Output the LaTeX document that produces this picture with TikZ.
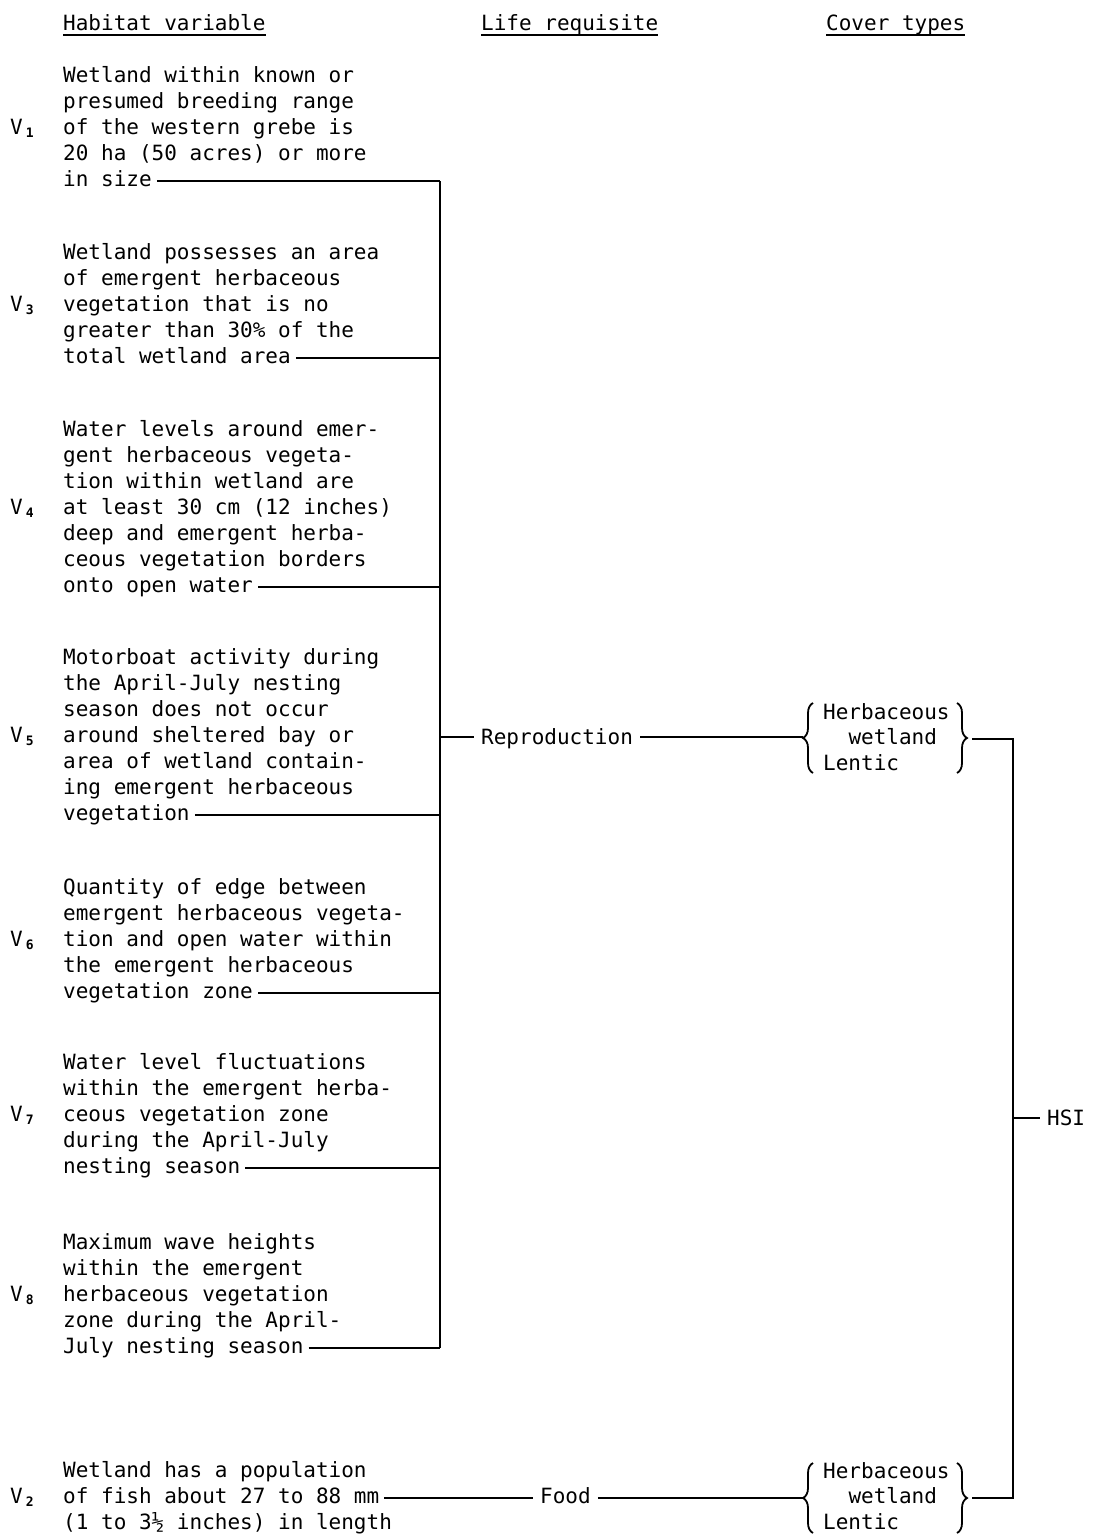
\documentclass[tikz,border=0pt]{standalone}
\usepackage{fontspec}
\newfontfamily\monofam{DejaVu Sans Mono}
\usetikzlibrary{decorations.pathreplacing}
\begin{document}
\begin{tikzpicture}[x=1pt,y=-1pt,
  txt/.style={font=\monofam\fontsize{21}{26}\selectfont, inner sep=0pt, anchor=base west, align=left},
  cov/.style={font=\monofam\fontsize{21}{25.5}\selectfont, inner sep=0pt, anchor=base west, align=left},
  lbl/.style={txt, inner xsep=5pt},
  mid/.style={txt, inner xsep=7pt},
  conn/.style={line width=1.3pt},
  ul/.style={line width=1.3pt},
  brc/.style={line width=1.8pt, decorate, decoration={brace, amplitude=10pt}}]
\useasboundingbox[fill=white] (0,0) rectangle (1093,1539);
\newcommand{\vlab}[1]{V\kern3pt\raisebox{-3pt}{\fontsize{13}{13}\selectfont\bfseries #1}}
\newcommand{\ind}{\hspace*{25.3pt}}

% headers
\node[txt] (h1) at (63,30) {Habitat variable};
\node[txt] (h2) at (481,30) {Life requisite};
\node[txt] (h3) at (826,30) {Cover types};
\foreach \h in {h1,h2,h3}
  \draw[ul] ([shift={(0,5)}]\h.base west) -- ([shift={(0,5)}]\h.base east);

\coordinate (trunk) at (440,0);
\coordinate (trunkB) at (1013,0);

% V1 (multi-line nodes are anchored at the baseline of their last line)
\node[txt] (v1a) at (63,160) {Wetland within known or\\presumed breeding range\\of the western grebe is\\20 ha (50 acres) or more};
\node[lbl] (v1z) at (58,186) {in size};
\node[txt] (v1) at (10,134) {\vlab{1}};
% V3
\node[txt] (v3a) at (63,337) {Wetland possesses an area\\of emergent herbaceous\\vegetation that is no\\greater than 30\% of the};
\node[lbl] (v3z) at (58,363) {total wetland area};
\node[txt] (v3) at (10,311) {\vlab{3}};
% V4
\node[txt] (v4a) at (63,566) {Water levels around emer-\\gent herbaceous vegeta-\\tion within wetland are\\at least 30 cm (12 inches)\\deep and emergent herba-\\ceous vegetation borders};
\node[lbl] (v4z) at (58,592) {onto open water};
\node[txt] (v4) at (10,514) {\vlab{4}};
% V5
\node[txt] (v5a) at (63,794) {Motorboat activity during\\the April-July nesting\\season does not occur\\around sheltered bay or\\area of wetland contain-\\ing emergent herbaceous};
\node[lbl] (v5z) at (58,820) {vegetation};
\node[txt] (v5) at (10,742) {\vlab{5}};
% V6
\node[txt] (v6a) at (63,972) {Quantity of edge between\\emergent herbaceous vegeta-\\tion and open water within\\the emergent herbaceous};
\node[lbl] (v6z) at (58,998) {vegetation zone};
\node[txt] (v6) at (10,946) {\vlab{6}};
% V7
\node[txt] (v7a) at (63,1147) {Water level fluctuations\\within the emergent herba-\\ceous vegetation zone\\during the April-July};
\node[lbl] (v7z) at (58,1173) {nesting season};
\node[txt] (v7) at (10,1121) {\vlab{7}};
% V8
\node[txt] (v8a) at (63,1327) {Maximum wave heights\\within the emergent\\herbaceous vegetation\\zone during the April-};
\node[lbl] (v8z) at (58,1353) {July nesting season};
\node[txt] (v8) at (10,1301) {\vlab{8}};
% V2
\node[txt] (v2a) at (63,1477) {Wetland has a population};
\node[lbl] (v2m) at (58,1503) {of fish about 27 to 88 mm};
\node[txt] (v2c) at (63,1529) {(1 to 3½ inches) in length};
\node[txt] (v2) at (10,1503) {\vlab{2}};

% connectors to trunk
\foreach \n in {v1z,v3z,v4z,v5z,v6z,v7z,v8z}
  \coordinate (e\n) at ([shift={(0,-5)}]\n.base east);
\foreach \n in {v1z,v3z,v4z,v5z,v6z,v7z,v8z}
  \draw[conn] (e\n) -- (e\n -| trunk);
\draw[conn] (ev1z -| trunk) -- (ev8z -| trunk);

% life requisites
\node[mid] (repro) at (474,744) {Reproduction};
\node[mid] (food) at (533,1503) {Food};
\coordinate (rpl) at ([shift={(0,-7)}]repro.base west);
\coordinate (rpr) at ([shift={(0,-7)}]repro.base east);
\coordinate (fdl) at ([shift={(0,-5)}]food.base west);
\coordinate (fdr) at ([shift={(0,-5)}]food.base east);
\coordinate (v2e) at ([shift={(0,-5)}]v2m.base east);

% cover types
\node[cov] (c1) at (823,770) {Herbaceous\\\ind wetland\\Lentic};
\node[cov] (c2) at (823,1529) {Herbaceous\\\ind wetland\\Lentic};
\draw[brc] (813,773) -- (813,703);
\draw[brc] (957,703) -- (957,773);
\draw[brc] (813,1533) -- (813,1463);
\draw[brc] (957,1463) -- (957,1533);
\coordinate (c1l) at (803,737);
\coordinate (c1r) at (972,739);
\coordinate (c2l) at (803,1498);
\coordinate (c2r) at (972,1498);

\draw[conn] (rpl -| trunk) -- (rpl);
\draw[conn] (rpr) -- (c1l);
\draw[conn] (v2e) -- (fdl);
\draw[conn] (fdr) -- (c2l);

% HSI
\node[mid] (hsi) at (1040,1125) {HSI};
\coordinate (hsil) at ([shift={(0,-7)}]hsi.base west);
\draw[conn] (c1r) -- (c1r -| trunkB) -- (c2r -| trunkB) -- (c2r);
\draw[conn] (hsil -| trunkB) -- (hsil);
\end{tikzpicture}
\end{document}
